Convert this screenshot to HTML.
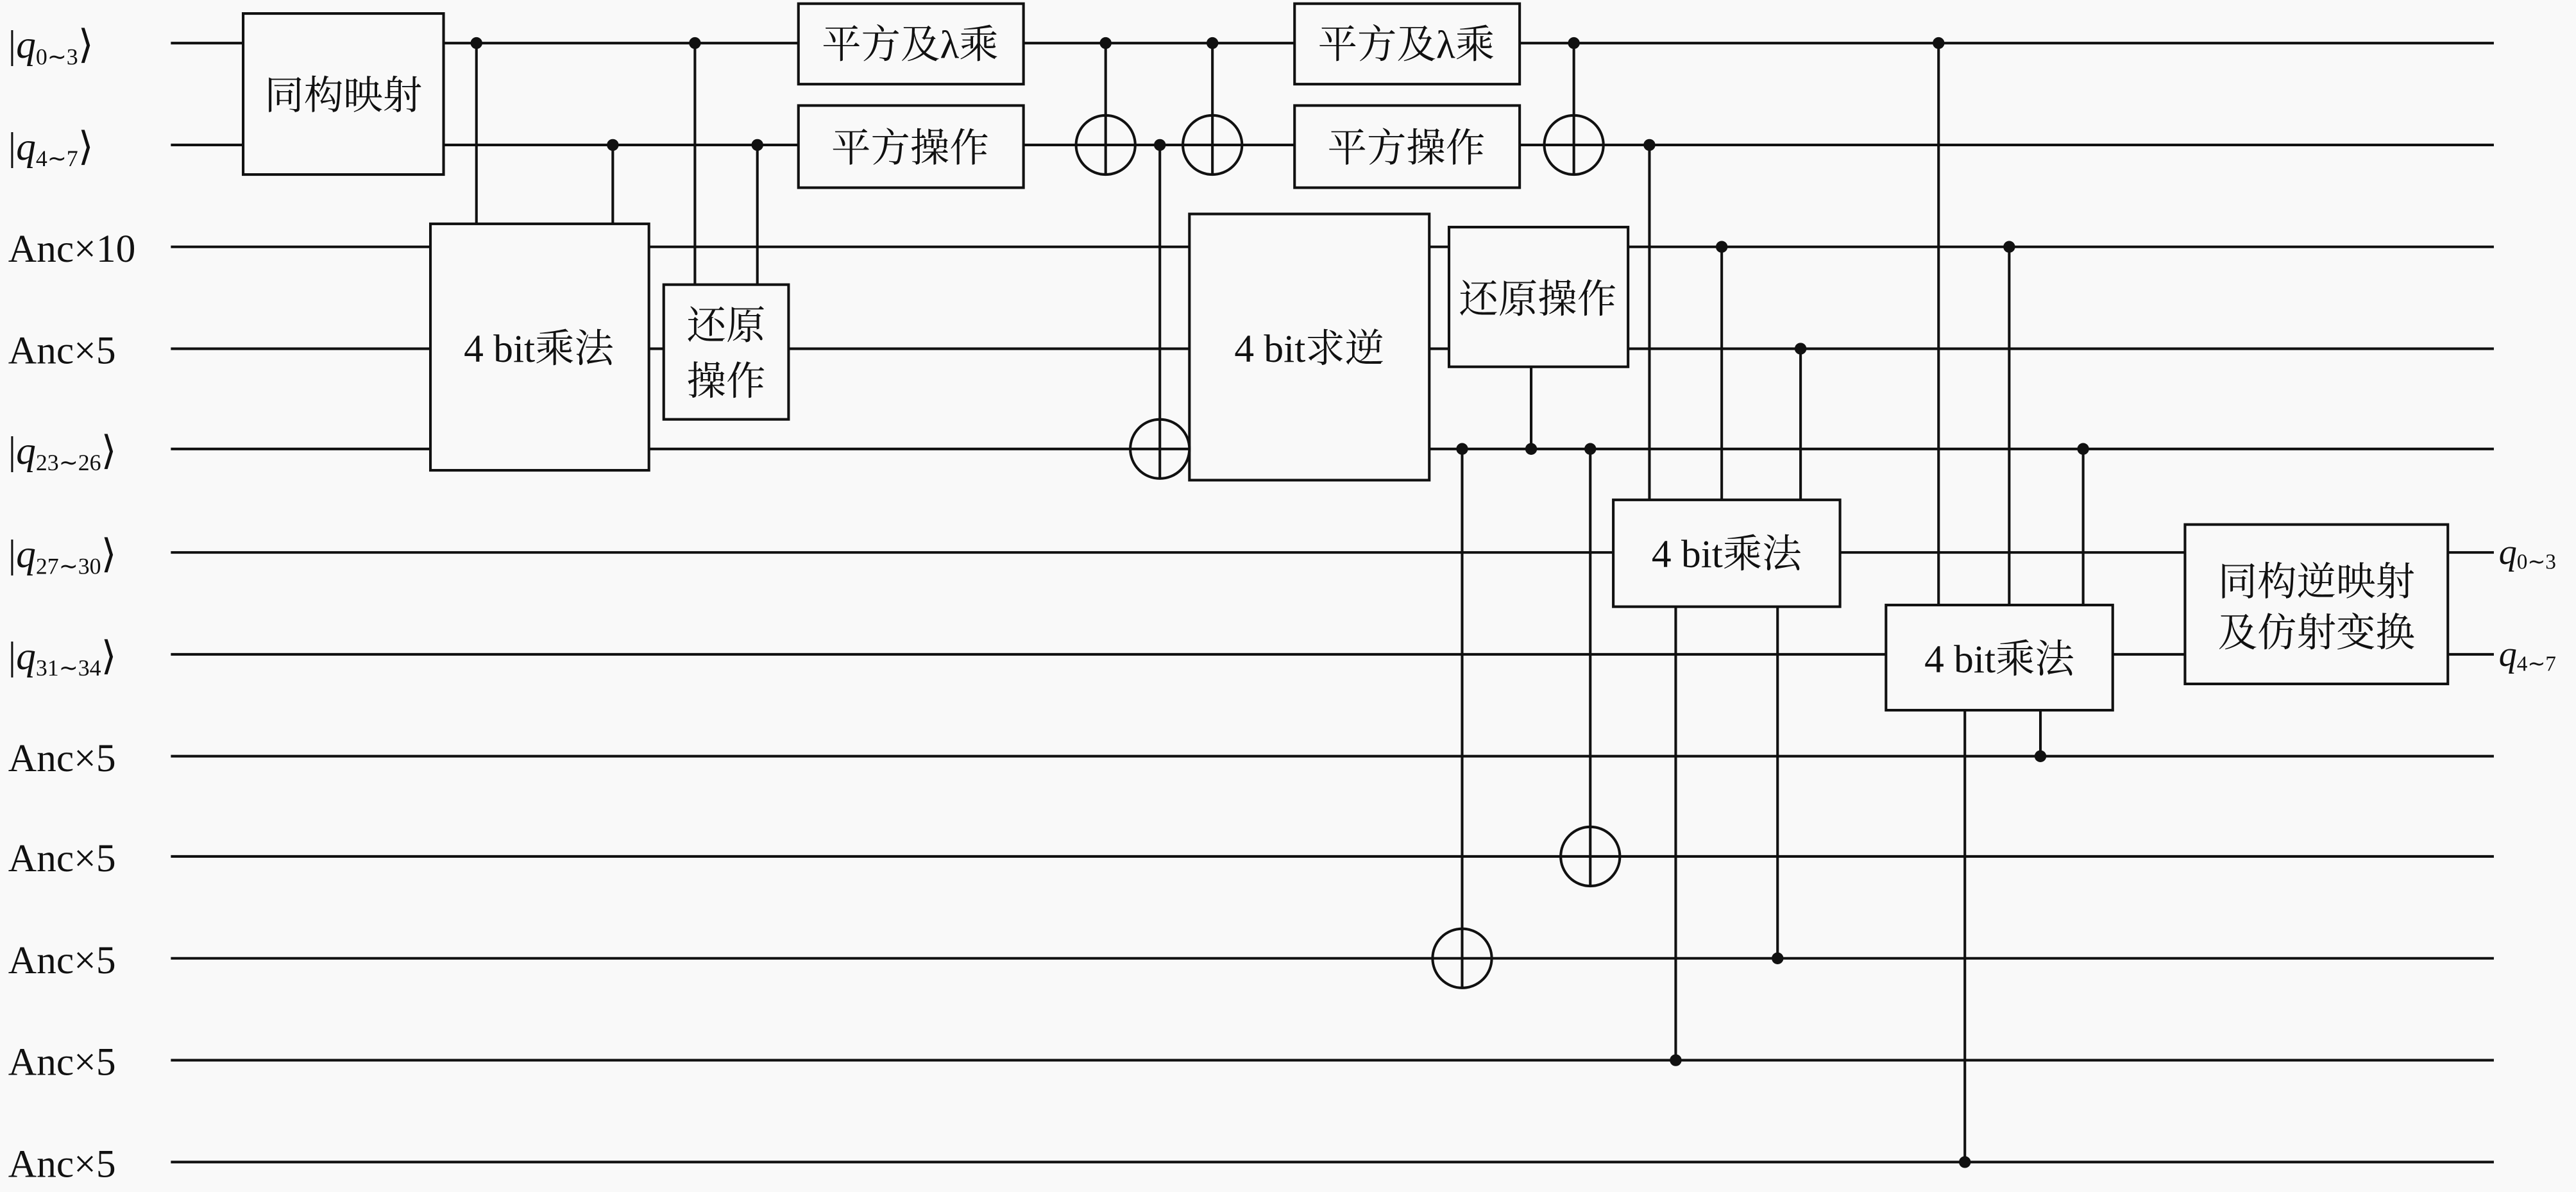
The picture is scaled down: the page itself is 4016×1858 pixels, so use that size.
<!DOCTYPE html>
<html><head><meta charset="utf-8"><style>
html,body{margin:0;padding:0;background:#f9f9f9;}
svg{display:block;}
text{font-family:"Liberation Serif","Noto Serif CJK SC",serif;fill:#111;}
</style></head><body>
<svg width="4016" height="1858" viewBox="0 0 1568 725" xmlns="http://www.w3.org/2000/svg">
<rect width="1568" height="725" fill="#f9f9f9"/>
<g stroke="#111" stroke-width="1.6" fill="none">
<line x1="104" y1="26" x2="1518" y2="26"/>
<line x1="104" y1="88" x2="1518" y2="88"/>
<line x1="104" y1="150" x2="1518" y2="150"/>
<line x1="104" y1="212" x2="1518" y2="212"/>
<line x1="104" y1="273" x2="1518" y2="273"/>
<line x1="104" y1="336" x2="1330" y2="336"/>
<line x1="104" y1="398" x2="1330" y2="398"/>
<line x1="1490" y1="336" x2="1518" y2="336"/>
<line x1="1490" y1="398" x2="1518" y2="398"/>
<line x1="104" y1="460" x2="1518" y2="460"/>
<line x1="104" y1="521" x2="1518" y2="521"/>
<line x1="104" y1="583" x2="1518" y2="583"/>
<line x1="104" y1="645" x2="1518" y2="645"/>
<line x1="104" y1="707" x2="1518" y2="707"/>
<line x1="290" y1="26" x2="290" y2="136"/>
<line x1="373" y1="88" x2="373" y2="136"/>
<line x1="423" y1="26" x2="423" y2="173"/>
<line x1="461" y1="88" x2="461" y2="173"/>
<line x1="673" y1="26" x2="673" y2="106"/>
<line x1="738" y1="26" x2="738" y2="106"/>
<line x1="706" y1="88" x2="706" y2="291"/>
<line x1="958" y1="26" x2="958" y2="106"/>
<line x1="932" y1="223" x2="932" y2="273"/>
<line x1="890" y1="273" x2="890" y2="601"/>
<line x1="968" y1="273" x2="968" y2="539"/>
<line x1="1004" y1="88" x2="1004" y2="304"/>
<line x1="1048" y1="150" x2="1048" y2="304"/>
<line x1="1096" y1="212" x2="1096" y2="304"/>
<line x1="1020" y1="369" x2="1020" y2="645"/>
<line x1="1082" y1="369" x2="1082" y2="583"/>
<line x1="1180" y1="26" x2="1180" y2="368"/>
<line x1="1223" y1="150" x2="1223" y2="368"/>
<line x1="1268" y1="273" x2="1268" y2="368"/>
<line x1="1196" y1="432" x2="1196" y2="707"/>
<line x1="1242" y1="432" x2="1242" y2="460"/>
</g>
<g stroke="#111" stroke-width="1.6" fill="#f9f9f9">
<rect x="148" y="8" width="122" height="98"/>
<rect x="262" y="136" width="133" height="150"/>
<rect x="404" y="173" width="76" height="82"/>
<rect x="486" y="2" width="137" height="49"/>
<rect x="486" y="64" width="137" height="50"/>
<rect x="724" y="130" width="146" height="162"/>
<rect x="788" y="2" width="137" height="49"/>
<rect x="788" y="64" width="137" height="50"/>
<rect x="882" y="138" width="109" height="85"/>
<rect x="982" y="304" width="138" height="65"/>
<rect x="1148" y="368" width="138" height="64"/>
<rect x="1330" y="319" width="160" height="97"/>
<circle cx="673" cy="88" r="18"/>
<circle cx="738" cy="88" r="18"/>
<circle cx="958" cy="88" r="18"/>
<circle cx="706" cy="273" r="18"/>
<circle cx="968" cy="521" r="18"/>
<circle cx="890" cy="583" r="18"/>
</g>
<g stroke="#111" stroke-width="1.6">
<line x1="655" y1="88" x2="691" y2="88"/><line x1="673" y1="70" x2="673" y2="106"/>
<line x1="720" y1="88" x2="756" y2="88"/><line x1="738" y1="70" x2="738" y2="106"/>
<line x1="940" y1="88" x2="976" y2="88"/><line x1="958" y1="70" x2="958" y2="106"/>
<line x1="688" y1="273" x2="724" y2="273"/><line x1="706" y1="255" x2="706" y2="291"/>
<line x1="950" y1="521" x2="986" y2="521"/><line x1="968" y1="503" x2="968" y2="539"/>
<line x1="872" y1="583" x2="908" y2="583"/><line x1="890" y1="565" x2="890" y2="601"/>
</g>
<g fill="#111">
<circle cx="290" cy="26" r="3.6"/><circle cx="373" cy="88" r="3.6"/>
<circle cx="423" cy="26" r="3.6"/><circle cx="461" cy="88" r="3.6"/>
<circle cx="673" cy="26" r="3.6"/><circle cx="738" cy="26" r="3.6"/>
<circle cx="706" cy="88" r="3.6"/><circle cx="958" cy="26" r="3.6"/>
<circle cx="932" cy="273" r="3.6"/><circle cx="890" cy="273" r="3.6"/>
<circle cx="968" cy="273" r="3.6"/><circle cx="1004" cy="88" r="3.6"/>
<circle cx="1048" cy="150" r="3.6"/><circle cx="1096" cy="212" r="3.6"/>
<circle cx="1020" cy="645" r="3.6"/><circle cx="1082" cy="583" r="3.6"/>
<circle cx="1180" cy="26" r="3.6"/><circle cx="1223" cy="150" r="3.6"/>
<circle cx="1268" cy="273" r="3.6"/><circle cx="1196" cy="707" r="3.6"/>
<circle cx="1242" cy="460" r="3.6"/>
</g>
<g font-size="24" text-anchor="middle">
<text x="209" y="66">同构映射</text>
<text x="328" y="220">4 bit乘法</text>
<text x="442" y="206">还原</text>
<text x="442" y="240">操作</text>
<text x="554" y="35">平方及λ乘</text>
<text x="554" y="98">平方操作</text>
<text x="797" y="220">4 bit求逆</text>
<text x="856" y="35">平方及λ乘</text>
<text x="856" y="98">平方操作</text>
<text x="936" y="190">还原操作</text>
<text x="1051" y="345">4 bit乘法</text>
<text x="1217" y="409">4 bit乘法</text>
<text x="1410" y="362">同构逆映射</text>
<text x="1410" y="393">及仿射变换</text>
</g>
<g font-size="24">
<text x="5" y="35">|<tspan font-style="italic">q</tspan><tspan font-size="14" dy="4">0∼3</tspan><tspan dy="-4">⟩</tspan></text>
<text x="5" y="97">|<tspan font-style="italic">q</tspan><tspan font-size="14" dy="4">4∼7</tspan><tspan dy="-4">⟩</tspan></text>
<text x="5" y="159">Anc×10</text>
<text x="5" y="221">Anc×5</text>
<text x="5" y="282">|<tspan font-style="italic">q</tspan><tspan font-size="14" dy="4">23∼26</tspan><tspan dy="-4">⟩</tspan></text>
<text x="5" y="345">|<tspan font-style="italic">q</tspan><tspan font-size="14" dy="4">27∼30</tspan><tspan dy="-4">⟩</tspan></text>
<text x="5" y="407">|<tspan font-style="italic">q</tspan><tspan font-size="14" dy="4">31∼34</tspan><tspan dy="-4">⟩</tspan></text>
<text x="5" y="469">Anc×5</text>
<text x="5" y="530">Anc×5</text>
<text x="5" y="592">Anc×5</text>
<text x="5" y="654">Anc×5</text>
<text x="5" y="716">Anc×5</text>
<text x="1521" y="343" font-size="22"><tspan font-style="italic">q</tspan><tspan font-size="13" dy="3">0∼3</tspan></text>
<text x="1521" y="405" font-size="22"><tspan font-style="italic">q</tspan><tspan font-size="13" dy="3">4∼7</tspan></text>
</g>
</svg>
</body></html>
